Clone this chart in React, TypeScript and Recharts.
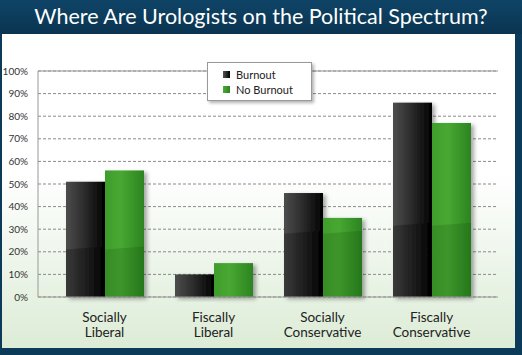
import {
  BarChart,
  Bar,
  XAxis,
  YAxis,
  CartesianGrid,
  ReferenceLine,
} from "recharts";

const categories = [
  "Socially\nLiberal",
  "Fiscally\nLiberal",
  "Socially\nConservative",
  "Fiscally\nConservative",
];
const burnout = [51, 10, 46, 86];
const noBurnout = [56, 15, 35, 77];
const yTicks = [0, 10, 20, 30, 40, 50, 60, 70, 80, 90, 100];

const data = categories.map((name, i) => ({
  name,
  burnout: burnout[i],
  noBurnout: noBurnout[i],
}));

const NAVY = "#0c3b5a";
const FONT = "Lato, 'Open Sans', sans-serif";

function GlossBar(props: any) {
  const { x, y, width, height, gradId, shadeColor, index, background } = props;
  if (!height || height <= 0) return null;
  const base = background ? background.y + background.height : y + height;
  const plotH = background ? background.height : 226;
  // darker lower part, boundary rises slightly to the right
  const yl = base - plotH * (0.21 + 0.035 * index);
  const yr = yl - 3;
  const top = y;
  const pts =
    yl > top
      ? `${x},${Math.max(yl, top)} ${x + width},${Math.max(yr, top)} ${x + width},${base} ${x},${base}`
      : "";
  return (
    <g filter="url(#barShadow)">
      <rect x={x} y={y} width={width} height={height} fill={`url(#${gradId})`} />
      {pts && <polygon points={pts} fill={shadeColor} />}
    </g>
  );
}

function CatTick(props: any) {
  const { x, y, payload } = props;
  const lines = String(payload.value).split("\n");
  return (
    <g>
      {lines.map((l, i) => (
        <text
          key={i}
          x={x}
          y={y + 17 + i * 15}
          textAnchor="middle"
          fontFamily={FONT}
          fontSize={13.5}
          fill="#222"
        >
          {l}
        </text>
      ))}
    </g>
  );
}

function LegendBox() {
  const items = [
    { label: "Burnout", bg: "linear-gradient(to right, #555, #000)" },
    { label: "No Burnout", bg: "linear-gradient(to right, #4caa35, #2d8420)" },
  ];
  return (
    <div
      style={{
        position: "absolute",
        left: 207,
        top: 62,
        width: 105,
        height: 39,
        background: "#fff",
        border: "1px solid #999",
        boxShadow: "2px 2px 3px rgba(0,0,0,0.3)",
        boxSizing: "border-box",
        padding: "4px 0 0 15px",
        fontFamily: FONT,
        fontSize: 11,
        color: "#222",
      }}
    >
      {items.map((it) => (
        <div
          key={it.label}
          style={{ display: "flex", alignItems: "center", height: 15 }}
        >
          <span
            style={{
              width: 7,
              height: 7,
              background: it.bg,
              marginRight: 6,
              display: "inline-block",
            }}
          />
          {it.label}
        </div>
      ))}
    </div>
  );
}

export default function App() {
  return (
    <div
      style={{
        position: "absolute",
        left: 0,
        top: 0,
        width: 522,
        height: 355,
        background: NAVY,
        overflow: "hidden",
      }}
    >
      <div
        style={{
          height: 34,
          lineHeight: "32px",
          textAlign: "center",
          color: "#fff",
          fontFamily: FONT,
          fontSize: 21.5,
          background: "linear-gradient(to bottom, #0f4467, #0a3450)",
        }}
      >
        Where Are Urologists on the Political Spectrum?
      </div>
      <div
        style={{
          position: "absolute",
          left: 2,
          top: 34,
          width: 513,
          height: 314,
          background:
            "linear-gradient(to bottom, #ffffff 0%, #ffffff 45%, #dcecd6 100%)",
        }}
      />
      <div style={{ position: "absolute", left: 0, top: 0 }}>
        <BarChart
          width={522}
          height={355}
          data={data}
          margin={{ top: 71, right: 24, bottom: 28, left: 0 }}
          barSize={39}
          barGap={0}
        >
          <defs>
            <linearGradient id="gBlack" x1="0" y1="0" x2="1" y2="0">
              <stop offset="0%" stopColor="#4d4d4d" />
              <stop offset="55%" stopColor="#262626" />
              <stop offset="100%" stopColor="#000" />
            </linearGradient>
            <linearGradient id="gGreen" x1="0" y1="0" x2="1" y2="0">
              <stop offset="0%" stopColor="#3f9d2c" />
              <stop offset="40%" stopColor="#48a832" />
              <stop offset="100%" stopColor="#2c8420" />
            </linearGradient>
            <filter id="barShadow" x="-20%" y="-10%" width="150%" height="130%">
              <feDropShadow
                dx="3"
                dy="2"
                stdDeviation="2"
                floodColor="#000"
                floodOpacity="0.35"
              />
            </filter>
          </defs>
          <CartesianGrid
            vertical={false}
            stroke="#8a8a8a"
            strokeDasharray="3 2"
          />
          <XAxis
            dataKey="name"
            height={30}
            padding={{ left: 12, right: 12 }}
            axisLine={{ stroke: "#999" }}
            tickLine={false}
            interval={0}
            tick={<CatTick />}
          />
          <YAxis
            width={38}
            domain={[0, 100]}
            ticks={yTicks}
            interval={0}
            tickFormatter={(v) => `${v}%`}
            axisLine={{ stroke: "#999" }}
            tickLine={false}
            tick={{ fontSize: 10, fill: "#333", fontFamily: FONT }}
            tickMargin={4}
          />
          <YAxis
            yAxisId="r"
            orientation="right"
            width={0}
            domain={[0, 100]}
            axisLine={{ stroke: "#999" }}
            tickLine={false}
            tick={false}
          />
          <ReferenceLine y={100} stroke="#999" />
          <Bar
            dataKey="burnout"
            name="Burnout"
            isAnimationActive={false}
            shape={(p: any) => (
              <GlossBar {...p} gradId="gBlack" shadeColor="rgba(0,0,0,0.25)" />
            )}
          />
          <Bar
            dataKey="noBurnout"
            name="No Burnout"
            isAnimationActive={false}
            shape={(p: any) => (
              <GlossBar {...p} gradId="gGreen" shadeColor="rgba(0,40,0,0.14)" />
            )}
          />
        </BarChart>
      </div>
      <LegendBox />
    </div>
  );
}
